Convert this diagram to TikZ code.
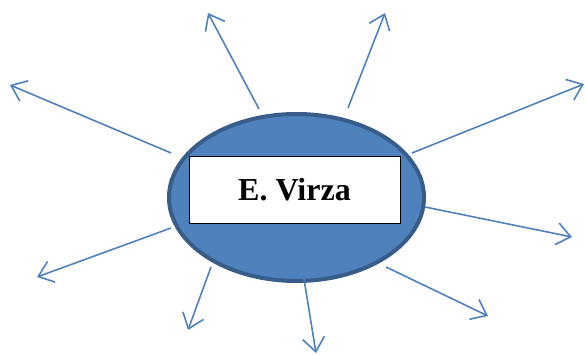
\documentclass[tikz,border=0pt]{standalone}
\usepackage{fontspec}
\setmainfont{Liberation Serif}
\usepackage{tikz}
\usetikzlibrary{arrows.meta}
\usetikzlibrary{shapes.geometric}

\definecolor{virzablue}{HTML}{4F81BD}
\definecolor{virzaedge}{HTML}{385D8A}

\begin{document}
\begin{tikzpicture}[x=1pt,y=-1pt,spoke/.style={draw=virzablue,line width=1.6pt,-{Straight Barb[length=14pt,width=22pt,line width=1.6pt]}},blob/.style={ellipse,draw=virzaedge,fill=virzablue,line width=4pt,inner sep=0pt,minimum width=255pt,minimum height=167pt},namebox/.style={rectangle,draw=black,fill=white,line width=1pt,inner sep=0pt,minimum width=211pt,minimum height=66pt,font=\fontsize{32}{36}\selectfont\bfseries}]
	
	\useasboundingbox (0,0) rectangle (585,355);
	
	\node[blob] (virza) at (296.5,197.5) {};
	\node[namebox] (name) at (294.5,190) {E. Virza};
	
	\coordinate (s1) at (259,109);
	\coordinate (t1) at (208,13);
	\coordinate (s2) at (348,108);
	\coordinate (t2) at (385,13);
	\coordinate (s3) at (171,153);
	\coordinate (t3) at (10,85);
	\coordinate (s4) at (412,153);
	\coordinate (t4) at (584,84);
	\coordinate (s5) at (425,207);
	\coordinate (t5) at (572,237);
	\coordinate (s6) at (386,267);
	\coordinate (t6) at (488,316);
	\coordinate (s7) at (304,279);
	\coordinate (t7) at (316,353);
	\coordinate (s8) at (211,267);
	\coordinate (t8) at (188,330);
	\coordinate (s9) at (171,228);
	\coordinate (t9) at (37,277);
	
	\draw[spoke] (s1) -- (t1);
	\draw[spoke] (s2) -- (t2);
	\draw[spoke] (s3) -- (t3);
	\draw[spoke] (s4) -- (t4);
	\draw[spoke] (s5) -- (t5);
	\draw[spoke] (s6) -- (t6);
	\draw[spoke] (s7) -- (t7);
	\draw[spoke] (s8) -- (t8);
	\draw[spoke] (s9) -- (t9);
	
\end{tikzpicture}
\end{document}
